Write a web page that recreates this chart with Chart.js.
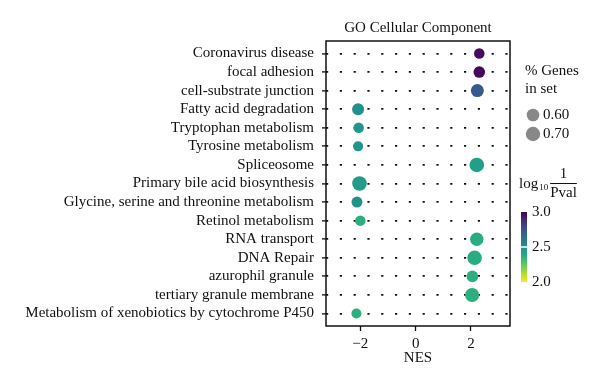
<!DOCTYPE html>
<html>
<head>
<meta charset="utf-8">
<script src="https://cdn.jsdelivr.net/npm/chart.js@4.4.0/dist/chart.umd.min.js"></script>
<style>
html, body { margin: 0; padding: 0; background: #fff; }
</style>
</head>
<body>
<canvas id="chart" width="600" height="388"></canvas>
<script>
var terms = [
    'Coronavirus disease',
    'focal adhesion',
    'cell-substrate junction',
    'Fatty acid degradation',
    'Tryptophan metabolism',
    'Tyrosine metabolism',
    'Spliceosome',
    'Primary bile acid biosynthesis',
    'Glycine, serine and threonine metabolism',
    'Retinol metabolism',
    'RNA transport',
    'DNA Repair',
    'azurophil granule',
    'tertiary granule membrane',
    'Metabolism of xenobiotics by cytochrome P450'
];
var nes      = [2.30, 2.30, 2.23, -2.08, -2.06, -2.08, 2.21, -2.03, -2.12, -2.00, 2.21, 2.13, 2.05, 2.04, -2.14];
var pctGenes = [0.50, 0.55, 0.62, 0.57, 0.50, 0.48, 0.71, 0.71, 0.52, 0.50, 0.64, 0.71, 0.55, 0.68, 0.48];
var logInvP  = [2.97, 2.98, 2.72, 2.50, 2.48, 2.48, 2.44, 2.45, 2.49, 2.37, 2.38, 2.38, 2.37, 2.37, 2.37];

var xTicks = [-2, 0, 2];
var sizeBreaks = [0.60, 0.70];
var colorBreaks = [3.0, 2.5, 2.0];
var colorMin = 2.0, colorMax = 3.0;

var serif = '"Liberation Serif", "DejaVu Serif", serif';
var fontPx = 15;

// viridis, purple -> yellow
var viridisStops = ['#440154', '#482475', '#414487', '#355f8d', '#2a788e', '#21918c',
                    '#22a884', '#44bf70', '#7ad151', '#bddf26', '#fde725'];

function hexToRgb(h) {
    return [parseInt(h.substr(1, 2), 16), parseInt(h.substr(3, 2), 16), parseInt(h.substr(5, 2), 16)];
}
function viridis(t) {
    t = Math.max(0, Math.min(1, t));
    var p = t * 10;
    var i = Math.min(9, Math.floor(p));
    var f = p - i;
    var a = hexToRgb(viridisStops[i]), b = hexToRgb(viridisStops[i + 1]);
    return 'rgb(' + Math.round(a[0] + (b[0] - a[0]) * f) + ',' +
        Math.round(a[1] + (b[1] - a[1]) * f) + ',' +
        Math.round(a[2] + (b[2] - a[2]) * f) + ')';
}
function colorFor(v) {
    return viridis((colorMax - v) / (colorMax - colorMin));
}
function radiusFor(p) {
    return Math.sqrt(Math.max(1, 121 * p - 32.9));
}

var points = nes.map(function(v, i) { return { x: v, y: i }; });

// box, title, NES label and the two legends
var decorPlugin = {
    id: 'decor',
    beforeDatasetsDraw: function(chart) {
        var c = chart.ctx, a = chart.chartArea;
        c.save();
        c.strokeStyle = '#111';
        c.lineWidth = 1.5;
        c.strokeRect(a.left, a.top, a.right - a.left, a.bottom - a.top);
        c.restore();
    },
    afterDraw: function(chart) {
        var c = chart.ctx, a = chart.chartArea;
        var mid = (a.left + a.right) / 2;
        c.save();
        c.fillStyle = '#111';
        c.font = fontPx + 'px ' + serif;
        c.textBaseline = 'middle';
        c.textAlign = 'center';
        c.fillText('GO Cellular Component', mid, 28);
        c.fillText('NES', mid, 358);

        // size legend
        c.textAlign = 'left';
        c.fillText('% Genes', 525, 71);
        c.fillText('in set', 525, 89);
        var ly = [115, 134];
        sizeBreaks.forEach(function(s, i) {
            c.fillStyle = '#888';
            c.beginPath();
            c.arc(533, ly[i], radiusFor(s), 0, Math.PI * 2);
            c.fill();
            c.fillStyle = '#111';
            c.fillText(s.toFixed(2), 543, ly[i]);
        });

        // colour legend title: log10 1/Pval
        c.fillText('log', 519, 184);
        var lw = c.measureText('log').width;
        c.font = '9px ' + serif;
        c.fillText('10', 519 + lw + 1, 188);
        var sw = c.measureText('10').width;
        var fx = 519 + lw + sw + 3;
        c.font = fontPx + 'px ' + serif;
        var pw = c.measureText('Pval').width;
        c.textAlign = 'center';
        c.fillText('1', fx + pw / 2, 174);
        c.fillText('Pval', fx + pw / 2, 193);
        c.fillRect(fx, 183, pw, 1);

        // colour bar
        var top = 212, bot = 282, bx = 521, bw = 6;
        var g = c.createLinearGradient(0, top, 0, bot);
        for (var k = 0; k <= 10; k++) g.addColorStop(k / 10, viridis(k / 10));
        c.fillStyle = g;
        c.fillRect(bx, top, bw, bot - top);
        c.textAlign = 'left';
        colorBreaks.forEach(function(v) {
            var y = top + (colorMax - v) / (colorMax - colorMin) * (bot - top);
            if (v < colorMax && v > colorMin) {
                c.fillStyle = '#fff';
                c.fillRect(bx, y - 0.75, bw, 1.5);
            }
            c.fillStyle = '#111';
            c.fillText(v.toFixed(1), 532, y);
        });
        c.restore();
    }
};

new Chart(document.getElementById('chart'), {
    type: 'scatter',
    data: {
        datasets: [{
            data: points,
            pointRadius: function(ctx) { return radiusFor(pctGenes[ctx.dataIndex]); },
            pointHoverRadius: function(ctx) { return radiusFor(pctGenes[ctx.dataIndex]); },
            backgroundColor: function(ctx) { return colorFor(logInvP[ctx.dataIndex]); },
            borderWidth: 0
        }]
    },
    options: {
        responsive: false,
        animation: false,
        events: [],
        layout: { padding: { top: 41, right: 90, left: 0, bottom: 0 } },
        plugins: { legend: { display: false }, tooltip: { enabled: false } },
        scales: {
            x: {
                type: 'linear',
                position: 'bottom',
                min: -3.24,
                max: 3.41,
                afterBuildTicks: function(s) { s.ticks = xTicks.map(function(v) { return { value: v }; }); },
                afterFit: function(s) { s.height = 62; },
                border: { display: false },
                grid: { drawOnChartArea: false, drawTicks: true, tickLength: 5, tickColor: '#111', tickWidth: 1.3 },
                ticks: {
                    padding: 4,
                    color: '#111',
                    font: { family: serif, size: fontPx },
                    callback: function(v) { return String(v).replace('-', '\u2212'); }
                }
            },
            y: {
                type: 'linear',
                reverse: true,
                min: -0.67,
                max: 14.67,
                afterBuildTicks: function(s) { s.ticks = terms.map(function(t, i) { return { value: i }; }); },
                afterFit: function(s) { s.width = 326; },
                border: { display: false, dash: [2.2, 11.6], dashOffset: 0 },
                grid: {
                    color: '#111',
                    lineWidth: 1.8,
                    tickBorderDash: [],
                    tickLength: 4,
                    tickColor: '#111',
                    tickWidth: 1.3
                },
                ticks: {
                    autoSkip: false,
                    padding: 8,
                    color: '#111',
                    font: { family: serif, size: fontPx },
                    callback: function(v) { return terms[v]; }
                }
            }
        }
    },
    plugins: [decorPlugin]
});
</script>
</body>
</html>
